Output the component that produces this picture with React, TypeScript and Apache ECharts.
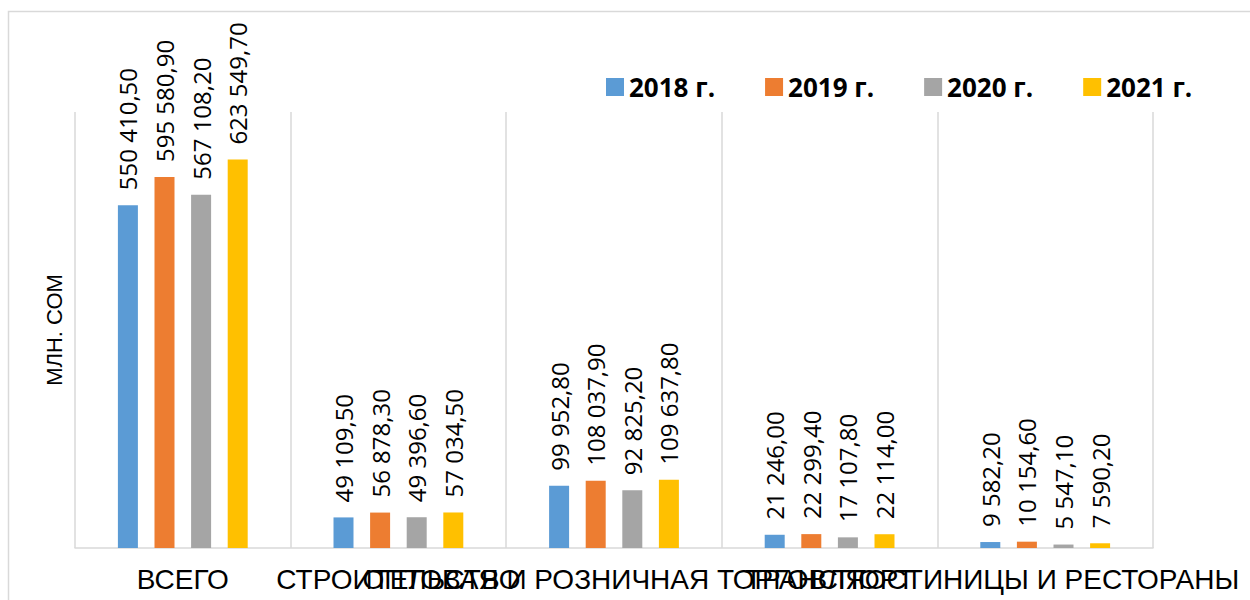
import React, { useEffect, useRef } from "react";
import * as echarts from "echarts";

const categories = [
  "ВСЕГО",
  "СТРОИТЕЛЬСТВО",
  "ОПТОВАЯ И РОЗНИЧНАЯ ТОРГОВЛЯ",
  "ТРАНСПОРТ",
  "ГОСТИНИЦЫ И РЕСТОРАНЫ",
];
const seriesNames = ["2018 г.", "2019 г.", "2020 г.", "2021 г."];
const values2018 = [550410.5, 49109.5, 99952.8, 21246.0, 9582.2];
const values2019 = [595580.9, 56878.3, 108037.9, 22299.4, 10154.6];
const values2020 = [567108.2, 49396.6, 92825.2, 17107.8, 5547.1];
const values2021 = [623549.7, 57034.5, 109637.8, 22114.0, 7590.2];
const colors = ["#5B9BD5", "#ED7D31", "#A5A5A5", "#FFC000"];
const yAxisName = "МЛН. СОМ";

function fmt(v: number): string {
  const [intPart, dec] = v.toFixed(2).split(".");
  const withSpaces = intPart.replace(/\B(?=(\d{3})+(?!\d))/g, " ");
  return withSpaces + "," + dec;
}

export default function App() {
  const ref = useRef<HTMLDivElement>(null);
  useEffect(() => {
    if (!ref.current) return;
    const chart = echarts.init(ref.current, undefined, { renderer: "svg" });
    const allValues = [values2018, values2019, values2020, values2021];
    chart.setOption({
      animation: false,
      backgroundColor: "#ffffff",
      graphic: [
        {
          type: "rect",
          shape: { x: 8.5, y: 11.5, width: 1400, height: 800 },
          style: { fill: "none", stroke: "#d9d9d9", lineWidth: 1.5 },
          silent: true,
          z: -10,
        },
      ],
      legend: {
        left: 601,
        top: 69,
        itemWidth: 18,
        itemHeight: 18,
        itemGap: 50,
        icon: "rect",
        textStyle: {
          fontFamily: "Open Sans",
          fontWeight: "bold",
          fontSize: 26,
          color: "#000000",
        },
        data: seriesNames,
      },
      grid: { left: 75, right: 97, top: 112, bottom: 52 },
      xAxis: {
        type: "category",
        data: categories,
        axisLine: { lineStyle: { color: "#d9d9d9", width: 1.5 } },
        axisTick: { show: false },
        splitLine: { show: true, lineStyle: { color: "#d9d9d9", width: 1.5 } },
        axisLabel: {
          interval: 0,
          hideOverlap: false,
          margin: 17,
          fontFamily: "Liberation Sans",
          fontSize: 28,
          color: "#000000",
        },
      },
      yAxis: {
        type: "value",
        min: 0,
        max: 700000,
        name: yAxisName,
        nameLocation: "middle",
        nameGap: 10,
        nameTextStyle: {
          fontFamily: "Liberation Sans",
          fontSize: 22,
          color: "#000000",
        },
        axisLine: { show: false },
        axisTick: { show: false },
        axisLabel: { show: false },
        splitLine: { show: false },
      },
      series: seriesNames.map((name, i) => ({
        name,
        type: "bar",
        data: allValues[i],
        barWidth: 20,
        barGap: "83%",
        itemStyle: { color: colors[i] },
        label: {
          show: true,
          position: "top",
          rotate: 90,
          align: "left",
          verticalAlign: "middle",
          distance: 15,
          fontFamily: "Open Sans",
          fontSize: 24,
          color: "#000000",
          formatter: (p: any) => fmt(p.value),
        },
      })),
    });
    return () => chart.dispose();
  }, []);
  return (
    <div
      ref={ref}
      style={{ position: "fixed", left: 0, top: 0, width: 1250, height: 600 }}
    />
  );
}
